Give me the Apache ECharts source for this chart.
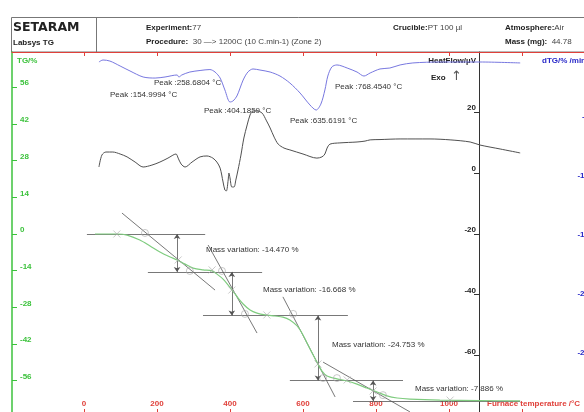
<!DOCTYPE html>
<html><head><meta charset="utf-8">
<script src="https://cdn.jsdelivr.net/npm/echarts@6/dist/echarts.min.js"></script>
<style>html,body{margin:0;padding:0;background:#fff}#c{width:584px;height:412px}</style>
</head><body><div id="c"></div>
<script>
// ---- data (temperature in °C) ----
const dtgT = [41,52,71,99,126,162,195,222,255,260,268,290,318,345,359,373,386,400,408,419,436,449,463,482,510,537,564,592,619,636,649,660,668,679,693,721,748,767,784,811,838,866,901,975,1085,1195];
const dtgV = [0,0.17,0.08,-0.34,-0.76,-1.27,-1.36,-1.27,-1.10,-1.27,-1.10,-0.85,-0.72,-0.64,-0.85,-1.36,-2.37,-3.39,-3.31,-2.88,-1.53,-0.85,-0.59,-0.68,-0.85,-1.19,-1.78,-2.63,-3.64,-4.07,-3.56,-2.37,-1.19,-0.42,-0.25,-0.51,-0.85,-1.19,-0.93,-0.59,-0.51,-0.25,-0.08,0,0,-0.08];

const hfT = [41,49,60,79,99,118,140,162,186,208,230,252,258,266,277,296,318,337,353,364,373,381,386,390,395,397,400,405,411,416,422,430,438,447,455,463,474,488,499,510,521,532,548,564,600,638,652,660,666,674,701,748,770,784,811,866,948,1003,1058,1085,1140,1195];
const hfV = [1.97,5.9,6.9,6.9,6.25,5.3,3.6,1.97,2.6,3.6,4.9,6.25,4.9,2.96,1.97,3.6,5.3,5.6,4.9,3.6,1.6,-2.96,-5.6,-5.9,-2.3,0,-1.6,-4.6,-4.6,-2.3,1.0,5.9,11.5,15.8,19.1,20.4,20.4,19.7,17.4,14.8,11.8,9.5,8.2,7.6,6.25,4.9,5.3,6.25,8.2,9.5,9.9,10.2,10.5,10.9,11.0,11.2,11.2,10.9,10.2,9.2,7.9,6.6];

const tgT = [30,90,118,153,181,208,236,255,277,299,326,351,367,381,395,408,422,436,455,474,496,523,545,564,584,597,611,625,638,652,666,693,721,748,775,803,830,858,893,975,1085,1195];
const tgV = [0,0,-0.4,-2.3,-4.6,-6.9,-8.8,-9.9,-11.5,-13.0,-13.7,-14.1,-15.6,-17.2,-19.5,-21.8,-24.4,-26.7,-29.0,-30.2,-30.9,-31.3,-31.7,-32.8,-35.1,-37.8,-41.6,-45.4,-48.9,-52.3,-54.2,-55.3,-56.1,-57.3,-58.8,-60.3,-61.8,-62.6,-63.0,-63.4,-63.6,-63.7];

// mass-variation construction
const levelTG = [0, -14.47, -31.138, -55.891, -63.777];
const levelFromT = [8, 175, 326, 564, 737];
const levelToT = [332, 488, 723, 874, 1195];
const arrowT = [255, 405, 641, 792];
const tangentT = [[104,359],[340,474],[545,688],[655,893]];
const tangentTG = [[8.0,-21.4],[-4.2,-37.8],[-24.0,-62.2],[-48.9,-67.9]];
const crossT = [90,258,351,405,501,641,721,792,1003];
const crossTG = [0,-9.9,-13.7,-21.4,-30.9,-49.6,-55.7,-59.9,-63.4];
const circT = [167,290,378,441,573,655,693,819];
const circTG = [0.4,-14.1,-14.1,-30.5,-30.5,-55,-55,-61.5];

const massLabels = ['Mass variation: -14.470 %','Mass variation: -16.668 %','Mass variation: -24.753 %','Mass variation: -7.886 %'];
const peakLabels = ['Peak :154.9994 °C','Peak :258.6804 °C','Peak :404.1859 °C','Peak :635.6191 °C','Peak :768.4540 °C'];

const xTicks = [0,200,400,600,800,1000,1200];
const xLabels = [0,200,400,600,800,1000];
const tgTicks = [-56,-42,-28,-14,0,14,28,42,56];
const hfTicks = [-60,-40,-20,0,20];
const dtgTicks = [-25,-20,-15,-10,-5];

// ---- layout calibration ----
const FONT = 'Liberation Sans';
const px = 0.365, x0 = 84, gl = 12, gr = 584, gt = 52, gb = 412;
const xMin = (gl - x0)/px, xMax = (gr - x0)/px;
const tg0 = 234, tgS = 2.62;
const hf0 = 173, hfS = 3.04;
const dt0 = 62, dtS = 11.8;

const zip = (a,b) => a.map((v,i)=>[v,b[i]]);
const plain = v => String(v);
const RED = '#e0403a', GREEN = '#3cc23c', BLUE = '#2828c8', GREY='#555';

const lineSegs = [];
levelTG.forEach((v,i)=>lineSegs.push({coords:[[levelFromT[i],v],[levelToT[i],v]]}));
tangentT.forEach((t,i)=>lineSegs.push({coords:[[t[0],tangentTG[i][0]],[t[1],tangentTG[i][1]]]}));
const arrowSegs = arrowT.map((t,i)=>({coords:[[t,levelTG[i]],[t,levelTG[i+1]]]}));

const txt = (x,y,text,extra) => Object.assign({type:'text', x, y, style:Object.assign({text, font:'8px '+FONT, fill:'#333', verticalAlign:'middle'}, extra||{})});
const hdr = (x,y,b,rest) => ({type:'text', x, y, style:{text:'{b|'+b+'}'+rest, font:'8px '+FONT, fill:'#444', verticalAlign:'middle', rich:{b:{fontWeight:'bold', fontSize:8, fontFamily:FONT, fill:'#222'}}}});

const chart = echarts.init(document.getElementById('c'), null, {renderer:'canvas'});
chart.setOption({
  animation:false,
  backgroundColor:'#fff',
  textStyle:{fontFamily:FONT},
  grid:{left:gl, right:584-gr, top:gt, bottom:412-gb, containLabel:false, outerBoundsMode:'none'},
  xAxis:[
    {type:'value', position:'bottom', min:xMin, max:xMax,
     name:'Furnace temperature /°C', nameLocation:'end', nameGap:-97,
     nameTextStyle:{color:RED, fontWeight:'bold', fontSize:8, fontFamily:FONT, align:'left', verticalAlign:'bottom', padding:[0,0,4,0]},
     axisLine:{show:false, onZero:false},
     axisTick:{show:true, inside:true, length:3, customValues:xTicks, lineStyle:{color:RED}},
     axisLabel:{show:true, inside:true, margin:4, customValues:xLabels, formatter:plain, color:RED, fontWeight:'bold', fontSize:8, fontFamily:FONT},
     splitLine:{show:false}},
    {type:'value', position:'top', min:xMin, max:xMax,
     axisLine:{show:true, onZero:false, lineStyle:{color:RED, width:1}},
     axisTick:{show:true, inside:true, length:4, customValues:xTicks, lineStyle:{color:RED}},
     axisLabel:{show:false}, splitLine:{show:false}}
  ],
  yAxis:[
    {type:'value', position:'left', min:(tg0-gb)/tgS, max:(tg0-gt)/tgS,
     name:'TG/%', nameLocation:'end', nameGap:-9,
     nameTextStyle:{color:GREEN, fontWeight:'bold', fontSize:8, fontFamily:FONT, align:'left', verticalAlign:'middle', padding:[0,0,0,5]},
     axisLine:{show:true, onZero:false, lineStyle:{color:GREEN, width:1.5}},
     axisTick:{show:true, inside:true, length:5, customValues:tgTicks, lineStyle:{color:GREEN}},
     axisLabel:{show:true, inside:true, margin:8, customValues:tgTicks, formatter:plain, color:GREEN, fontWeight:'bold', fontSize:8, fontFamily:FONT, verticalAlign:'bottom'},
     splitLine:{show:false}},
    {type:'value', position:'right', offset:479-gr, min:(hf0-gb)/hfS, max:(hf0-gt)/hfS,
     name:'HeatFlow/µV', nameLocation:'end', nameGap:-9,
     nameTextStyle:{color:'#222', fontWeight:'bold', fontSize:8, fontFamily:FONT, align:'right', verticalAlign:'middle', padding:[0,3,0,0]},
     axisLine:{show:true, onZero:false, lineStyle:{color:'#333', width:1}},
     axisTick:{show:true, inside:true, length:5, customValues:hfTicks, lineStyle:{color:'#333'}},
     axisLabel:{show:true, inside:true, margin:3, customValues:hfTicks, formatter:plain, color:'#222', fontWeight:'bold', fontSize:8, fontFamily:FONT, verticalAlign:'bottom'},
     splitLine:{show:false}},
    {type:'value', position:'right', offset:9, min:(dt0-gb)/dtS, max:(dt0-gt)/dtS,
     name:'dTG/% /min', nameLocation:'end', nameGap:-9,
     nameTextStyle:{color:BLUE, fontWeight:'bold', fontSize:8, fontFamily:FONT, align:'right', verticalAlign:'middle', padding:[0,7,0,0]},
     axisLine:{show:false, onZero:false},
     axisTick:{show:false},
     axisLabel:{show:true, inside:true, margin:4, customValues:dtgTicks, formatter:plain, color:BLUE, fontWeight:'bold', fontSize:8, fontFamily:FONT, verticalAlign:'bottom'},
     splitLine:{show:false}}
  ],
  series:[
    {type:'lines', coordinateSystem:'cartesian2d', xAxisIndex:0, yAxisIndex:0, silent:true,
     lineStyle:{color:GREY, width:0.8, opacity:1}, data:lineSegs, z:3},
    {type:'lines', coordinateSystem:'cartesian2d', xAxisIndex:0, yAxisIndex:0, silent:true,
     symbol:['arrow','arrow'], symbolSize:5,
     lineStyle:{color:GREY, width:0.8, opacity:1}, data:arrowSegs, z:3},
    {type:'line', name:'TG', xAxisIndex:0, yAxisIndex:0, data:zip(tgT,tgV), smooth:0.3, showSymbol:false,
     lineStyle:{color:'#7fcc7f', width:1.2}, z:4},
    {type:'scatter', xAxisIndex:0, yAxisIndex:0, data:zip(crossT,crossTG), symbol:'path://M0 0L10 10M10 0L0 10', symbolSize:7,
     itemStyle:{color:'rgba(0,0,0,0)', borderColor:'#aaa', borderWidth:0.8}, z:5},
    {type:'scatter', xAxisIndex:0, yAxisIndex:0, data:zip(circT,circTG), symbol:'circle', symbolSize:7,
     itemStyle:{color:'rgba(0,0,0,0)', borderColor:'#aaa', borderWidth:0.8}, z:5},
    {type:'line', name:'HeatFlow', xAxisIndex:0, yAxisIndex:1, data:zip(hfT,hfV), smooth:0.3, showSymbol:false,
     lineStyle:{color:'#505050', width:1}, z:4},
    {type:'line', name:'dTG', xAxisIndex:0, yAxisIndex:2, data:zip(dtgT,dtgV), smooth:0.3, showSymbol:false,
     lineStyle:{color:'#7878e0', width:1}, z:4}
  ],
  graphic:[
    {type:'rect', shape:{x:11.5, y:17.5, width:620, height:34.5}, style:{fill:'none', stroke:'#777', lineWidth:1}},
    {type:'line', shape:{x1:96.5, y1:17.5, x2:96.5, y2:52}, style:{stroke:'#777', lineWidth:1}},
    txt(13,28,'SETARAM',{font:'bold 12.5px DejaVu Sans', fill:'#222'}),
    txt(13,43,'Labsys TG',{font:'bold 8px '+FONT, fill:'#222'}),
    hdr(146,28,'Experiment:','77'),
    hdr(146,42,'Procedure:','  30 —> 1200C (10 C.min-1) (Zone 2)'),
    hdr(393,28,'Crucible:','PT 100 µl'),
    hdr(505,28,'Atmosphere:','Air'),
    hdr(505,42,'Mass (mg):','  44.78'),
    txt(431,78,'Exo',{font:'bold 8px '+FONT, fill:'#222'}),
    txt(451,77,'↑',{font:'13px DejaVu Sans', fill:'#555'}),
    txt(110,95,peakLabels[0]),
    txt(154,83,peakLabels[1]),
    txt(204,111,peakLabels[2]),
    txt(290,121,peakLabels[3]),
    txt(335,87,peakLabels[4]),
    txt(206,250,massLabels[0]),
    txt(263,290,massLabels[1]),
    txt(332,345,massLabels[2]),
    txt(415,389,massLabels[3])
  ]
});
</script></body></html>
